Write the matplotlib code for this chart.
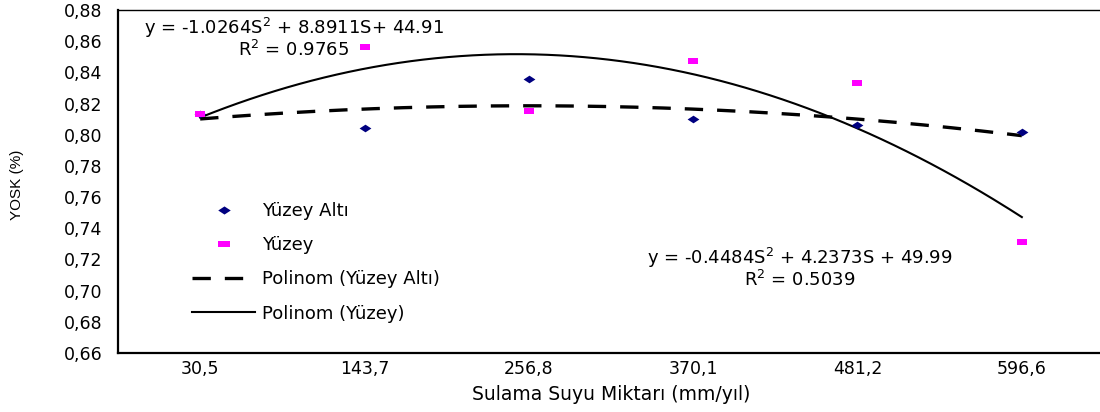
import numpy as np
import matplotlib
matplotlib.use("Agg")
import matplotlib.pyplot as plt
from matplotlib.lines import Line2D

plt.rcParams['font.family'] = ['DejaVu Sans']

categories = ["30,5", "143,7", "256,8", "370,1", "481,2", "596,6"]
yuzey_alti = [0.813, 0.804, 0.836, 0.810, 0.806, 0.802]
yuzey = [0.813, 0.856, 0.815, 0.847, 0.833, 0.731]
y_ticks = [0.66, 0.68, 0.70, 0.72, 0.74, 0.76, 0.78, 0.80, 0.82, 0.84, 0.86, 0.88]
eq_yuzey = "y = -1.0264S$^2$ + 8.8911S+ 44.91"
r2_yuzey = "R$^2$ = 0.9765"
eq_alti = "y = -0.4484S$^2$ + 4.2373S + 49.99"
r2_alti = "R$^2$ = 0.5039"
legend_labels = ["Yüzey Altı", "Yüzey", "Polinom (Yüzey Altı)", "Polinom (Yüzey)"]

W, H = 1100, 412
fig = plt.figure(figsize=(W / 100, H / 100), dpi=100)
ax = fig.add_axes([118 / W, 1 - 353 / H, (1104 - 118) / W, (353 - 10) / H])

def fx(px):
    return px / W

def fy(py):
    return 1 - py / H

NAVY = '#000080'
MAGENTA = '#FF00FF'
diamond = [(-1, 0), (0, 0.65), (1, 0), (0, -0.65), (-1, 0)]
rect = [(-1, -0.62), (1, -0.62), (1, 0.62), (-1, 0.62), (-1, -0.62)]
DASH = (0, (5.5, 4.2))

x = np.arange(1, len(categories) + 1)
xs = np.linspace(1, len(categories), 200)

# polynomial (order 2) trend lines fitted to the series
p_alti = np.polyfit(x, yuzey_alti, 2)
p_yuz = np.polyfit(x, yuzey, 2)
ax.plot(xs, np.polyval(p_alti, xs), color='black', lw=2.4, ls=DASH, zorder=2)
ax.plot(xs, np.polyval(p_yuz, xs), color='black', lw=1.5, zorder=2)

ax.plot(x, yuzey_alti, ls='none', marker=diamond, ms=8.5, color=NAVY, mew=0, zorder=3)
ax.plot(x, yuzey, ls='none', marker=rect, ms=7.5, color=MAGENTA, mew=0, zorder=4)

ax.set_xlim(0.5, 6.5)
ax.set_ylim(0.66, 0.88)
ax.set_xticks(x)
ax.set_xticklabels(categories, fontsize=12.5)
ax.set_yticks(y_ticks)
ax.set_yticklabels([f"{v:.2f}".replace('.', ',') for v in y_ticks], fontsize=12.5)
ax.tick_params(length=0)
ax.tick_params(axis='y', pad=11)
ax.tick_params(axis='x', pad=5)

for s in ['left', 'bottom']:
    ax.spines[s].set_linewidth(1.6)
ax.spines['top'].set_linewidth(1.0)
ax.spines['right'].set_visible(False)

fig.text(fx(17), fy(185), "YOSK (%)", rotation=90, ha='center', va='center',
         fontsize=11, family=['Liberation Sans', 'DejaVu Sans'])
fig.text(fx(611), fy(395), "Sulama Suyu Miktarı (mm/yıl)", ha='center', va='center', fontsize=13.5)

fig.text(fx(294), fy(38), eq_yuzey + "\n" + r2_yuzey, ha='center', va='center',
         multialignment='center', fontsize=13, linespacing=0.95)
fig.text(fx(800), fy(268), eq_alti + "\n" + r2_alti, ha='center', va='center',
         multialignment='center', fontsize=13, linespacing=0.95)

handles = [
    Line2D([], [], ls='none', marker=diamond, ms=9, color=NAVY, mew=0),
    Line2D([], [], ls='none', marker=rect, ms=8, color=MAGENTA, mew=0),
    Line2D([], [], color='black', lw=2.4, ls=DASH),
    Line2D([], [], color='black', lw=1.5),
]
fig.legend(handles, legend_labels, loc='upper left', bbox_to_anchor=(fx(192), fy(202)),
           frameon=False, fontsize=13, labelspacing=0.9, handlelength=3.5,
           handletextpad=0.4, borderpad=0, borderaxespad=0)

fig.savefig("out.png", dpi=100)
